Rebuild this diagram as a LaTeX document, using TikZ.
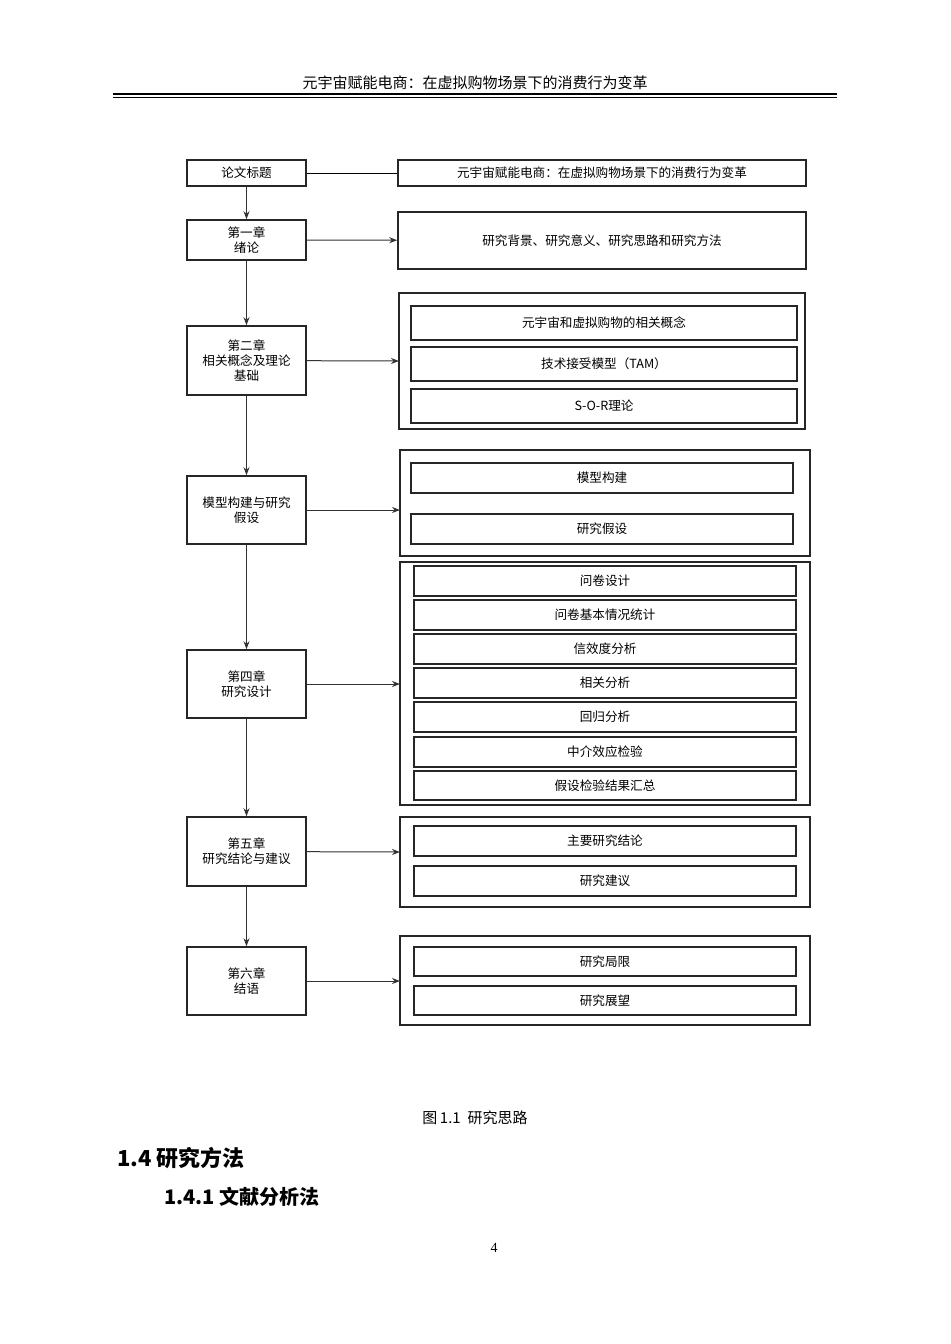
\documentclass[tikz,border=0pt]{standalone}
\usepackage{fontspec}
\setmainfont{Liberation Serif}
\newfontfamily\cjk{Noto Sans CJK SC}
\newfontfamily\cjkserif{Noto Sans CJK SC}
\usetikzlibrary{arrows.meta}
\begin{document}
\begin{tikzpicture}[x=0.5pt,y=-0.5pt,
 lb/.style={draw=black!85,line width=0.8pt,align=center,font=\cjk\fontsize{6.3}{7.6}\selectfont,inner sep=0pt},
 ob/.style={draw=black!85,line width=0.9pt},
 ar/.style={-{Stealth[length=4pt,width=3pt]},line width=0.5pt,black!80}]
\useasboundingbox (0,0) rectangle (950,1344);
\node[font=\cjk\fontsize{7.5}{9}\selectfont] (hdr) at (475,83) {元宇宙赋能电商：在虚拟购物场景下的消费行为变革};
\draw[line width=1.2pt] (113,94) -- (837,94);
\draw[line width=0.4pt] (113,97.5) -- (837,97.5);
\newcommand\bx[6]{\node[lb,minimum width=#3*0.5pt-#2*0.5pt,minimum height=#5*0.5pt-#4*0.5pt] (#1) at ({(#2+#3)/2},{(#4+#5)/2}) {#6};}
\bx{l0}{187}{306}{160}{186}{论文标题}
\bx{l1}{187}{306}{220}{260}{第一章\\绪论}
\bx{l2}{187}{306}{326}{395}{第二章\\相关概念及理论\\基础}
\bx{l3}{187}{306}{476}{544}{模型构建与研究\\假设}
\bx{l4}{187}{306}{650}{718}{第四章\\研究设计}
\bx{l5}{187}{306}{817}{886}{第五章\\研究结论与建议}
\bx{l6}{187}{306}{947}{1015}{第六章\\结语}
\bx{r0}{398}{806}{160}{186}{元宇宙赋能电商：在虚拟购物场景下的消费行为变革}
\bx{r1}{398}{806}{212}{269}{研究背景、研究意义、研究思路和研究方法}
\draw[ob] (399,293) rectangle (805,429); \coordinate (g2) at (399,361);
\bx{a1}{411}{797}{306}{340}{元宇宙和虚拟购物的相关概念}
\bx{a2}{411}{797}{347}{381}{技术接受模型（TAM）}
\bx{a3}{411}{797}{389}{423}{S-O-R理论}
\draw[ob] (400,450) rectangle (810,556); \coordinate (g3) at (400,510);
\bx{b1}{411}{793}{463}{493}{模型构建}
\bx{b2}{411}{793}{514}{544}{研究假设}
\draw[ob] (400,562) rectangle (810,805); \coordinate (g4) at (400,684);
\bx{c1}{414}{796}{566}{596}{问卷设计}
\bx{c2}{414}{796}{600}{630}{问卷基本情况统计}
\bx{c3}{414}{796}{634}{664}{信效度分析}
\bx{c4}{414}{796}{668}{698}{相关分析}
\bx{c5}{414}{796}{702}{732}{回归分析}
\bx{c6}{414}{796}{737}{767}{中介效应检验}
\bx{c7}{414}{796}{771}{800}{假设检验结果汇总}
\draw[ob] (400,817) rectangle (810,907); \coordinate (g5) at (400,852);
\bx{d1}{414}{796}{826}{856}{主要研究结论}
\bx{d2}{414}{796}{866}{896}{研究建议}
\draw[ob] (400,936) rectangle (810,1025); \coordinate (g6) at (400,981);
\bx{e1}{414}{796}{947}{976}{研究局限}
\bx{e2}{414}{796}{986}{1015}{研究展望}
\draw[line width=0.5pt] (l0) -- (r0);
\foreach \a/\b in {l0/l1,l1/l2,l2/l3,l3/l4,l4/l5,l5/l6} \draw[ar] (\a) -- (\b);
\draw[ar] (l1) -- (r1);
\draw[ar] (l2) -- (g2);
\draw[ar] (l3.east) -- (g3);
\draw[ar] (l4) -- (g4);
\draw[ar] (l5) -- (g5);
\draw[ar] (l6) -- (g6);
\node[font=\cjk\fontsize{7.5}{9}\selectfont] (cap) at (475,1118) {图\,1.1\ \ 研究思路};
\node[anchor=west,font=\cjk\bfseries\fontsize{11}{13}\selectfont] (h1) at (110,1158) {1.4 研究方法};
\node[anchor=west,font=\cjk\bfseries\fontsize{10}{12}\selectfont] (h2) at (157,1197) {1.4.1 文献分析法};
\node[font=\fontsize{7}{8}\selectfont] (pg) at (494,1248) {4};
\end{tikzpicture}
\end{document}
